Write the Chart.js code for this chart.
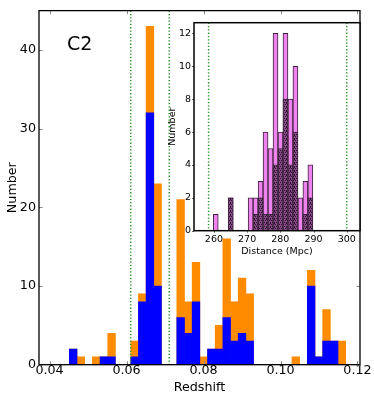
<!DOCTYPE html>
<html><head><meta charset="utf-8">
<script src="https://cdn.jsdelivr.net/npm/chart.js@4"></script>
<style>
html,body{margin:0;padding:0;background:#fff;}
#wrap{position:relative;width:374px;height:398px;overflow:hidden;background:#fff;}
#main{position:absolute;left:0;top:0;}
#inset{position:absolute;left:150px;top:10px;}
#label{position:absolute;left:67px;top:34px;font-family:'DejaVu Sans';font-size:19px;line-height:1;color:#000;}
</style></head><body>
<div id="wrap">
<canvas id="main" width="374" height="398"></canvas>
<canvas id="inset" width="224" height="260"></canvas>
<div id="label">C2</div>
</div>
<script>
// ---- main histogram (redshift) ----
const zBinStart = 0.04515, zBinWidth = 0.001994;
const allCounts    = [2,1,0,1,1,4,0,0,3,9,43,23,0,0,21,8,13,1,2,5,16,8,11,9,0,0,0,0,0,1,0,12,1,7,3,3];
const memberCounts = [2,0,0,0,1,1,0,0,1,8,32,10,0,0,6,4,8,0,2,2,6,3,4,3,0,0,0,0,0,0,0,10,1,3,3,0];
const zTicks = [0.04, 0.06, 0.08, 0.10, 0.12];
const countTicks = [0, 10, 20, 30, 40];
const zBounds = [0.0611, 0.0711];

// ---- inset histogram (distance) ----
const dBinStart = 259.8, dBinWidth = 1.5;
const distAll     = [1,0,0,2,0,0,0,2,2,3,6,5,12,6,12,8,10,2,3,4];
const distMembers = [0,0,0,2,0,0,0,0,1,2,1,1,4,5,8,4,6,0,1,2];
const dTicks = [260, 270, 280, 290, 300];
const dCountTicks = [0, 2, 4, 6, 8, 10, 12];
const dBounds = [258.4, 300];

Chart.defaults.font.family = "'DejaVu Sans'";
Chart.defaults.color = '#000';

const zCenters = allCounts.map((_, i) => zBinStart + zBinWidth * (i + 0.5));
const dCenters = distAll.map((_, i) => dBinStart + dBinWidth * (i + 0.5));
const toXY = (c, v) => v.map((y, i) => ({x: c[i], y: y}));

const framePlugin = {
  id: 'frame',
  beforeDraw(chart, args, o) {
    if (!o.fillArea) return;
    const {ctx, chartArea: a} = chart;
    ctx.save(); ctx.fillStyle = '#fff';
    ctx.fillRect(a.left, a.top, a.right - a.left, a.bottom - a.top);
    ctx.restore();
  },
  afterDatasetsDraw(chart, args, o) {
    const {ctx, chartArea: a, scales} = chart;
    ctx.save();
    ctx.strokeStyle = '#2a9a2a'; ctx.lineWidth = 1.5; ctx.setLineDash([1.3, 2]);
    o.lines.forEach(v => {
      const x = scales.x.getPixelForValue(v);
      ctx.beginPath(); ctx.moveTo(x, a.top); ctx.lineTo(x, a.bottom); ctx.stroke();
    });
    ctx.setLineDash([]);
    ctx.strokeStyle = o.tickColor; ctx.lineWidth = 1;
    const L = o.tickLen;
    ctx.beginPath();
    o.xt.forEach(v => {
      const x = Math.round(scales.x.getPixelForValue(v)) + 0.5;
      if (o.inward) {
        ctx.moveTo(x, a.bottom); ctx.lineTo(x, a.bottom - L);
        ctx.moveTo(x, a.top); ctx.lineTo(x, a.top + L);
      } else { ctx.moveTo(x, a.bottom); ctx.lineTo(x, a.bottom + L); }
    });
    o.yt.forEach(v => {
      const y = Math.round(scales.y.getPixelForValue(v)) + 0.5;
      if (o.inward) {
        ctx.moveTo(a.left, y); ctx.lineTo(a.left + L, y);
        ctx.moveTo(a.right, y); ctx.lineTo(a.right - L, y);
      } else { ctx.moveTo(a.left, y); ctx.lineTo(a.left - L, y); }
    });
    ctx.stroke();
    ctx.strokeStyle = '#000'; ctx.lineWidth = o.frameWidth;
    ctx.strokeRect(a.left, a.top, a.right - a.left, a.bottom - a.top);
    ctx.restore();
  }
};

new Chart(document.getElementById('main'), {
  type: 'bar',
  data: { datasets: [
    { label: 'members', data: toXY(zCenters, memberCounts), backgroundColor: '#0000ff', borderWidth: 0, grouped: false, barPercentage: 1, categoryPercentage: 1 },
    { label: 'all', data: toXY(zCenters, allCounts), backgroundColor: '#ff8c00', borderWidth: 0, grouped: false, barPercentage: 1, categoryPercentage: 1 }
  ]},
  options: {
    responsive: false, animation: false, devicePixelRatio: 1,
    layout: { padding: { top: 9.3, right: 14, left: 0, bottom: 0 } },
    plugins: { legend: { display: false }, tooltip: { enabled: false },
      frame: { lines: zBounds, xt: zTicks, yt: countTicks, inward: true, tickLen: 3.5, tickColor: '#888', frameWidth: 1.3, fillArea: false } },
    scales: {
      x: { type: 'linear', min: 0.03727, max: 0.12065, offset: false,
        grid: { display: false, drawTicks: false }, border: { display: false },
        afterBuildTicks: s => { s.ticks = zTicks.map(v => ({value: v})); },
        afterFit: s => { s.height = 33.3; },
        ticks: { font: { size: 12.7, lineHeight: 1 }, padding: 0, maxRotation: 0, autoSkip: false, callback: v => Number(v).toFixed(2) },
        title: { display: true, text: 'Redshift', font: { size: 12.7 }, padding: { top: 0, bottom: 3 } } },
      y: { min: 0, max: 45,
        grid: { display: false, drawTicks: false }, border: { display: false },
        afterBuildTicks: s => { s.ticks = countTicks.map(v => ({value: v})); },
        afterFit: s => { s.width = 39; },
        ticks: { font: { size: 12.7 }, padding: 3 },
        title: { display: true, text: 'Number', font: { size: 12.7 }, padding: { top: 5, bottom: 0 } } }
    }
  },
  plugins: [framePlugin]
});

// hatched pattern for the inset subset bars
const pc = document.createElement('canvas'); pc.width = 4; pc.height = 4;
const pg = pc.getContext('2d');
pg.fillStyle = '#8a4a8a'; pg.fillRect(0, 0, 4, 4);
pg.fillStyle = '#2a0f2a';
[[0,0],[2,0],[1,2],[3,2],[0,1]].forEach(p => pg.fillRect(p[0], p[1], 1, 1));
const insetCanvas = document.getElementById('inset');
const hatch = insetCanvas.getContext('2d').createPattern(pc, 'repeat');

new Chart(insetCanvas, {
  type: 'bar',
  data: { datasets: [
    { label: 'members', data: toXY(dCenters, distMembers), backgroundColor: hatch, borderColor: '#3a243a', borderWidth: 1, borderSkipped: false, grouped: false, barPercentage: 1, categoryPercentage: 1 },
    { label: 'all', data: toXY(dCenters, distAll), backgroundColor: '#ee82ee', borderColor: '#3a243a', borderWidth: 1, borderSkipped: false, grouped: false, barPercentage: 1, categoryPercentage: 1 }
  ]},
  options: {
    responsive: false, animation: false, devicePixelRatio: 1,
    layout: { padding: { top: 12.7, right: 14, left: 0, bottom: 0 } },
    plugins: { legend: { display: false }, tooltip: { enabled: false },
      frame: { lines: dBounds, xt: dTicks, yt: dCountTicks, inward: false, tickLen: 2, tickColor: '#666', frameWidth: 1.5, fillArea: true } },
    scales: {
      x: { type: 'linear', min: 254, max: 304, offset: false,
        grid: { display: false, drawTicks: false }, border: { display: false },
        afterBuildTicks: s => { s.ticks = dTicks.map(v => ({value: v})); },
        afterFit: s => { s.height = 39.3; },
        ticks: { font: { size: 9.5, lineHeight: 1 }, padding: 4, maxRotation: 0, autoSkip: false, callback: v => String(v) },
        title: { display: true, text: 'Distance (Mpc)', font: { size: 9.5 }, padding: { top: 0, bottom: 12.6 } } },
      y: { min: 0, max: 12.65,
        grid: { display: false, drawTicks: false }, border: { display: false },
        afterBuildTicks: s => { s.ticks = dCountTicks.map(v => ({value: v})); },
        afterFit: s => { s.width = 44; },
        ticks: { font: { size: 9.5 }, padding: 3 },
        title: { display: true, text: 'Number', font: { size: 9.5 }, padding: { top: 16.8, bottom: 0 } } }
    }
  },
  plugins: [framePlugin]
});
</script>
</body></html>
